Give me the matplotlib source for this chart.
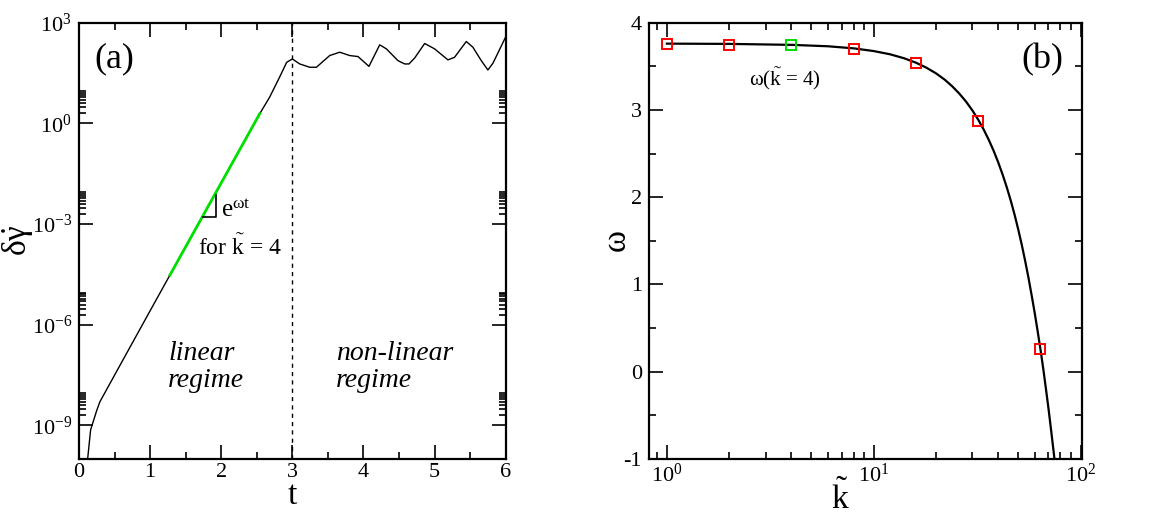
import numpy as np
import matplotlib
matplotlib.use("Agg")
import matplotlib.pyplot as plt
from matplotlib.ticker import FixedLocator, MultipleLocator, LogLocator, FuncFormatter, NullFormatter

plt.rcParams['font.family'] = ['Liberation Serif', 'DejaVu Serif']
plt.rcParams['mathtext.fontset'] = 'custom'
plt.rcParams['mathtext.rm'] = 'Liberation Serif'
plt.rcParams['mathtext.it'] = 'Liberation Serif:italic'
plt.rcParams['axes.unicode_minus'] = False

# panel (a): perturbation growth vs time
t_curve = [0.122, 0.164, 0.25, 0.295, 0.6, 1.0, 1.278, 2.542, 2.68, 2.82, 2.92, 3.0,
           3.104, 3.244, 3.338, 3.525, 3.666, 3.806, 3.923, 4.077, 4.228, 4.322,
           4.485, 4.579, 4.64, 4.72, 4.86, 5.0, 5.187, 5.28, 5.445, 5.538, 5.656,
           5.749, 5.82, 5.993]
dgam_curve = [1.0e-10, 7.4e-10, 2.8e-9, 5.1e-9, 7.6e-8, 2.6e-6, 3.0e-5, 1.95, 6.0, 23.7, 66, 83,
              59, 47, 47, 105, 132, 105, 98, 50, 219, 166,
              74, 59, 59, 89, 240, 166, 78, 93, 275, 186, 74,
              39, 62, 355]
t_fit = [1.278, 2.542]
dgam_fit = [3.0e-5, 1.95]
t_split = 3.0
slope_tri_t = [1.742, 1.925, 1.925]
slope_tri_y = [1.62e-3, 1.62e-3, 7.2e-3]

# panel (b): growth rate vs wavenumber
k_pts = [1, 2, 8, 16, 32, 64]
w_pts = [3.756, 3.75, 3.695, 3.535, 2.874, 0.262]
k_hl = [4]
w_hl = [3.745]
k_line = [1, 2, 4, 6, 8, 10, 12, 14, 16, 18, 20, 22, 24, 26, 28, 30, 32, 34, 36, 38,
          40, 42, 44, 46, 48, 50, 52, 54, 56, 58, 60, 62, 64, 66, 68, 70, 72, 74, 75]
w_line = [3.76, 3.757, 3.746, 3.73, 3.706, 3.675, 3.638, 3.593, 3.542, 3.484, 3.42,
          3.349, 3.27, 3.185, 3.094, 2.995, 2.89, 2.777, 2.658, 2.533, 2.40, 2.26,
          2.114, 1.961, 1.80, 1.63, 1.455, 1.27, 1.08, 0.88, 0.68, 0.47, 0.26, 0.04,
          -0.19, -0.42, -0.66, -0.90, -1.02]

fig = plt.figure(figsize=(11.51, 5.17), dpi=100)
ax1 = fig.add_axes([0.0686, 0.1122, 0.3708, 0.8439])
ax2 = fig.add_axes([0.5639, 0.1122, 0.3764, 0.8439])

tick_font = 16

def style_axes(ax):
    for s in ax.spines.values():
        s.set_linewidth(1.6)
    ax.tick_params(which='both', direction='in', top=True, right=True, width=1.2,
                   labelsize=tick_font)
    ax.tick_params(axis='x', pad=3)
    ax.tick_params(axis='y', pad=5)
    ax.tick_params(which='major', length=10)
    ax.tick_params(which='minor', length=5)

# ---- (a)
ax1.plot(t_curve, dgam_curve, color='black', lw=1.0)
ax1.plot(t_fit, dgam_fit, color='#00e000', lw=2.0)
ax1.plot(slope_tri_t, slope_tri_y, color='black', lw=1.2)
ax1.axvline(t_split, color='black', lw=1.0, ls=(0, (3, 3)))
ax1.set_yscale('log')
ax1.set_xlim(0, 6)
ax1.set_ylim(1e-10, 1e3)
ax1.xaxis.set_major_locator(MultipleLocator(1))
ax1.xaxis.set_minor_locator(MultipleLocator(0.5))
ax1.yaxis.set_major_locator(FixedLocator([1e-9, 1e-6, 1e-3, 1e0, 1e3]))
minor = [m * 10.0 ** e for e in (-9, -6, -3, 0) for m in range(2, 10)]
ax1.yaxis.set_minor_locator(FixedLocator(minor))
ax1.yaxis.set_minor_formatter(NullFormatter())
ax1.yaxis.set_major_formatter(FuncFormatter(lambda v, p: r'$10^{%d}$' % round(np.log10(v))))
style_axes(ax1)

ax1.text(0.084, 0.917, '(a)', transform=ax1.transAxes, fontsize=26, ha='center', va='center')
ax1.text(0.333, 0.555, r'e$^{\mathrm{ωt}}$', transform=ax1.transAxes, fontsize=18, va='baseline')
ax1.text(0.279, 0.468, r'for $\tilde{\mathrm{k}}$ = 4', transform=ax1.transAxes, fontsize=17, va='baseline')
ax1.text(0.209, 0.227, 'linear', transform=ax1.transAxes, fontsize=20, style='italic', va='baseline')
ax1.text(0.209, 0.166, 'regime', transform=ax1.transAxes, fontsize=20, style='italic', va='baseline')
ax1.text(0.602, 0.227, 'non-linear', transform=ax1.transAxes, fontsize=20, style='italic', va='baseline')
ax1.text(0.602, 0.166, 'regime', transform=ax1.transAxes, fontsize=20, style='italic', va='baseline')

# ---- (b)
ax2.plot(k_line, w_line, color='black', lw=1.6)
ax2.plot(k_pts, w_pts, ls='none', marker='s', ms=7, mfc='none', mec='red', mew=1.4)
ax2.plot(k_hl, w_hl, ls='none', marker='s', ms=7, mfc='none', mec='#00dd00', mew=1.4)
ax2.set_xscale('log')
ax2.set_xlim(0.82, 102)
ax2.set_ylim(-1, 4)
ax2.yaxis.set_major_locator(MultipleLocator(1))
ax2.yaxis.set_minor_locator(MultipleLocator(0.5))
ax2.xaxis.set_major_locator(LogLocator(base=10))
ax2.xaxis.set_minor_locator(LogLocator(base=10, subs=np.arange(2, 10)))
ax2.xaxis.set_minor_formatter(NullFormatter())
ax2.xaxis.set_major_formatter(FuncFormatter(lambda v, p: r'$10^{%d}$' % round(np.log10(v))))
style_axes(ax2)

ax2.text(0.907, 0.915, '(b)', transform=ax2.transAxes, fontsize=26, ha='center', va='center')
ax2.text(0.231, 0.855, r'ω($\tilde{\mathrm{k}}$ = 4)', transform=ax2.transAxes, fontsize=15, va='baseline')

# axis labels
fig.text(0.016, 0.536, r'$\mathrm{δ}\dot{\mathrm{γ}}$', fontsize=24, rotation=90, ha='center', va='center')
fig.text(0.2537, 0.025, 't', fontsize=24, ha='center', va='baseline')
fig.text(0.536, 0.536, 'ω', fontsize=24, rotation=90, ha='center', va='center')
fig.text(0.730, 0.016, r'$\tilde{\mathrm{k}}$', fontsize=24, ha='center', va='baseline')

fig.savefig('out.png', dpi=100)
